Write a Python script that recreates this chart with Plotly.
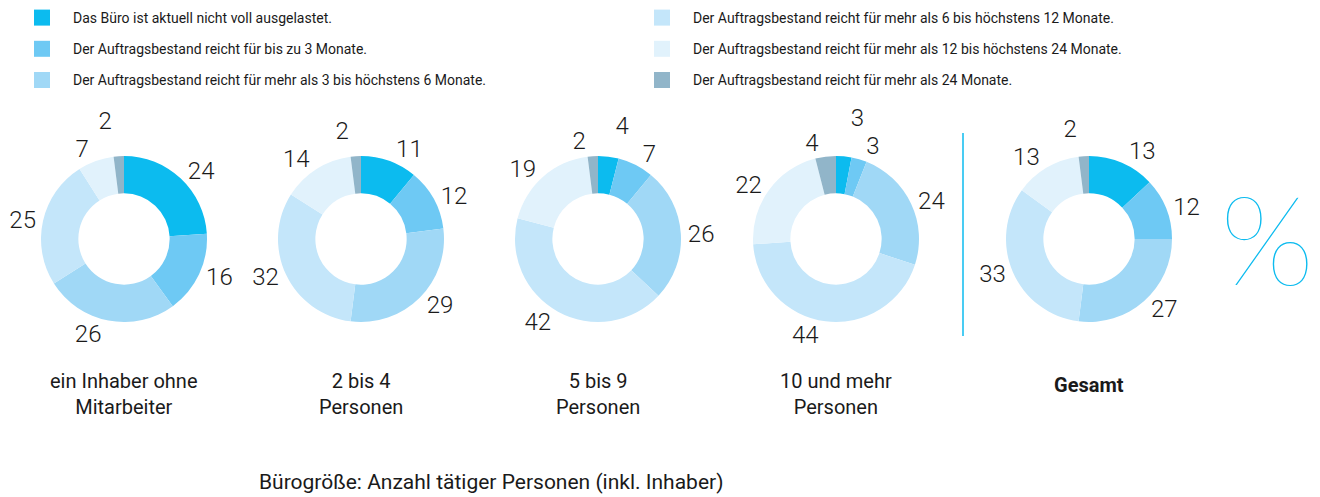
import plotly.graph_objects as go

# ---- data ----
legend_labels = [
    "Das Büro ist aktuell nicht voll ausgelastet.",
    "Der Auftragsbestand reicht für bis zu 3 Monate.",
    "Der Auftragsbestand reicht für mehr als 3 bis höchstens 6 Monate.",
    "Der Auftragsbestand reicht für mehr als 6 bis höchstens 12 Monate.",
    "Der Auftragsbestand reicht für mehr als 12 bis höchstens 24 Monate.",
    "Der Auftragsbestand reicht für mehr als 24 Monate.",
]
groups = [
    "ein Inhaber ohne<br>Mitarbeiter",
    "2 bis 4<br>Personen",
    "5 bis 9<br>Personen",
    "10 und mehr<br>Personen",
    "<b>Gesamt</b>",
]
values_inhaber = [24, 16, 26, 25, 7, 2]
values_2_4 = [11, 12, 29, 32, 14, 2]
values_5_9 = [4, 7, 26, 42, 19, 2]
values_10plus = [3, 3, 24, 44, 22, 4]
values_gesamt = [13, 12, 27, 33, 13, 2]
all_values = [values_inhaber, values_2_4, values_5_9, values_10plus, values_gesamt]
footer_text = "Bürogröße: Anzahl tätiger Personen (inkl. Inhaber)"

# ---- style ----
colors = ["#0cbbef", "#6ec9f4", "#a0d8f6", "#c4e6fa", "#e1f2fc", "#91b5c9"]
W, H = 1320, 497
FONT = "Roboto"
TXT = "#1a1a1a"
centers_x = [124, 361, 598, 836, 1089]
center_y = 239
R = 83

fig = go.Figure()

for vals, cx in zip(all_values, centers_x):
    fig.add_trace(go.Pie(
        labels=legend_labels,
        values=vals,
        hole=0.55,
        sort=False,
        direction="clockwise",
        rotation=0,
        marker=dict(colors=colors, line=dict(width=0)),
        texttemplate="%{value}",
        textposition="outside",
        textfont=dict(family=FONT, size=24, color=TXT, weight=300),
        hoverinfo="label+value",
        showlegend=False,
        domain=dict(x=[(cx - R) / W, (cx + R) / W],
                    y=[1 - (center_y + R) / H, 1 - (center_y - R) / H]),
    ))

# legend entries (two columns)
for i, (lab, col) in enumerate(zip(legend_labels, colors)):
    fig.add_trace(go.Scatter(
        x=[None], y=[None], mode="markers",
        marker=dict(symbol="square", size=16, color=col),
        name=lab,
        legend="legend" if i < 3 else "legend2",
        legendgroup=f"g{i}",
        hoverinfo="skip",
    ))

legend_common = dict(
    orientation="v",
    traceorder="grouped",
    tracegroupgap=10,
    itemwidth=52,
    font=dict(family=FONT, size=14, color=TXT),
    bgcolor="rgba(0,0,0,0)",
    xanchor="left",
    yanchor="top",
    y=1 - 2 / H,
)

annotations = []
for g, cx in zip(groups, centers_x):
    bold = g.startswith("<b>")
    annotations.append(dict(
        text=g, x=cx / W, y=1 - 367 / H, xref="paper", yref="paper",
        xanchor="center", yanchor="top", showarrow=False, align="center",
        yshift=-4 if bold else 0,
        font=dict(family=FONT, size=20, color=TXT),
    ))
annotations.append(dict(
    text=footer_text, x=257 / W, y=1 - 482 / H, xref="paper", yref="paper",
    xanchor="left", yanchor="middle", showarrow=False,
    font=dict(family=FONT, size=21, color=TXT),
))
annotations.append(dict(
    text="%", x=1267 / W, y=1 - 237 / H, xref="paper", yref="paper",
    xanchor="center", yanchor="middle", showarrow=False,
    font=dict(family="Lato", size=124, color="#0cbbef", weight=200),
))

fig.update_layout(
    width=W, height=H,
    margin=dict(l=0, r=0, t=0, b=0),
    paper_bgcolor="white", plot_bgcolor="white",
    xaxis=dict(visible=False), yaxis=dict(visible=False),
    legend=dict(**legend_common, x=11 / W),
    legend2=dict(**legend_common, x=631 / W),
    annotations=annotations,
    shapes=[dict(type="line", xref="paper", yref="paper",
                 x0=963 / W, x1=963 / W, y0=1 - 133 / H, y1=1 - 336 / H,
                 line=dict(color="#0cbbef", width=1.5))],
)

post = (
    "document.body.style.margin='0';"
    "var s=document.createElement('style');"
    "s.textContent='path.textline{display:none !important}';"
    "document.head.appendChild(s);"
)
fig.write_html("out.html", post_script=post, config={"displayModeBar": False})
